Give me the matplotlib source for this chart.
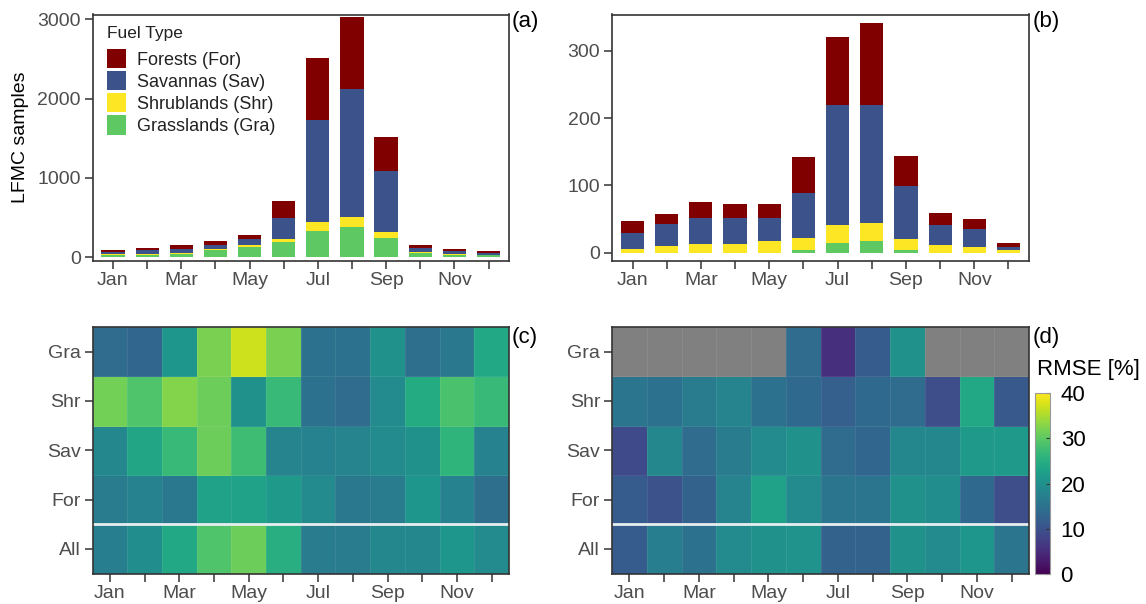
import matplotlib
matplotlib.use("Agg")
import matplotlib.pyplot as plt
import numpy as np
from matplotlib.colors import Normalize
from matplotlib.patches import Patch

plt.rcParams["font.family"] = ["Liberation Sans", "DejaVu Sans"]

months = ["Jan", "Feb", "Mar", "Apr", "May", "Jun", "Jul", "Aug", "Sep", "Oct", "Nov", "Dec"]
fuel_types = ["Forests (For)", "Savannas (Sav)", "Shrublands (Shr)", "Grasslands (Gra)"]
fuel_colors = ["#800000", "#3b528b", "#fde725", "#5ec962"]
heat_rows = ["Gra", "Shr", "Sav", "For", "All"]

# (a) sample counts per month, stacked Gra / Shr / Sav / For
gra_a = [30, 35, 45, 88, 130, 192, 335, 381, 238, 59, 33, 29]
shr_a = [10, 10, 15, 20, 20, 42, 104, 125, 76, 12, 9, 6]
sav_a = [30, 45, 50, 42, 76, 264, 1297, 1611, 778, 42, 33, 25]
for_a = [20, 27, 40, 60, 54, 209, 779, 916, 427, 46, 30, 20]

# (b) sample counts per month
gra_b = [0, 0, 0, 0, 0, 4.5, 14, 18, 4.5, 0, 0, 0]
shr_b = [6, 9.4, 13.4, 13.4, 17, 17.5, 27, 26.5, 15.5, 11.4, 9, 3.5]
sav_b = [23, 33.6, 38.1, 38.1, 34.5, 67, 179, 174.5, 78.5, 29.6, 26, 4.5]
for_b = [17.5, 15, 23.5, 20.5, 20.5, 53.5, 101, 123, 45, 18, 15, 6.4]

# (c) RMSE [%] rows Gra, Shr, Sav, For, All
rmse_c = np.array([
    [14, 13, 21, 32, 37, 32, 15, 15, 20, 14.5, 16, 24],
    [31.5, 29, 32.5, 31, 20, 27, 15, 14, 19, 24.5, 28.5, 27],
    [18.5, 23.5, 27, 31, 27.5, 18, 17.5, 18, 19, 20, 26, 17.5],
    [16.5, 17.5, 16, 23, 23, 21.5, 19, 16, 16.5, 21, 17.5, 14.5],
    [17, 19.5, 24, 29, 31, 25, 16.5, 16.5, 18.5, 18.5, 21, 19],
])

# (d) RMSE [%], nan = no samples
rmse_d = np.array([
    [np.nan, np.nan, np.nan, np.nan, np.nan, 14, 5.5, 11.5, 20, np.nan, np.nan, np.nan],
    [15.5, 15, 16.5, 18, 15, 13.5, 12, 13.5, 14, 9.5, 24, 11],
    [9, 18.5, 14, 16.5, 19, 20, 14, 13, 18.5, 18.5, 21.5, 21.5],
    [11.5, 10, 12.5, 18, 23, 19, 15.5, 15.5, 20, 19.5, 13.5, 9.5],
    [11.5, 17, 15, 19, 20, 20.5, 12.5, 12.5, 20, 19, 21, 15.5],
])

W, H = 1146, 604
FRAME = "#333333"
TICKCOL = "#4d4d4d"


def px_axes(fig, x0, y0, x1, y1):
    return fig.add_axes([x0 / W, 1 - y1 / H, (x1 - x0) / W, (y1 - y0) / H])


def style_axes(ax):
    for s in ax.spines.values():
        s.set_color(FRAME)
        s.set_linewidth(1.2)
    ax.tick_params(axis="both", colors=FRAME, labelcolor=TICKCOL, labelsize=14,
                   length=5.5, width=1.1, direction="out", pad=3)
    ax.set_xticks(range(1, 13))
    ax.set_xticklabels([m if i % 2 == 0 else "" for i, m in enumerate(months)])


def stacked_bars(ax, series):
    x = np.arange(1, 13)
    bottom = np.zeros(12)
    # draw from bottom: Gra, Shr, Sav, For
    for vals, col in zip(series, fuel_colors[::-1]):
        ax.bar(x, vals, width=0.68, bottom=bottom, color=col, edgecolor="none")
        bottom += np.array(vals)
    ax.set_xlim(0.4, 12.6)


def heatmap(ax, data, norm):
    cmap = plt.get_cmap("viridis").copy()
    cmap.set_bad("#808080")
    masked = np.ma.masked_invalid(data[::-1])
    ax.pcolormesh(np.arange(0.5, 13.5), np.arange(0.5, 6.5), masked, cmap=cmap, norm=norm,
                  edgecolor=(1, 1, 1, 0.08), linewidth=0.6)
    ax.axhline(1.5, color="#e8eef0", linewidth=2)
    ax.set_xlim(0.5, 12.5)
    ax.set_ylim(0.5, 5.5)
    ax.set_yticks(range(1, 6))
    ax.set_yticklabels(heat_rows[::-1])


fig = plt.figure(figsize=(W / 100, H / 100), dpi=100)

ax_a = px_axes(fig, 92.5, 14.5, 509, 260.5)
stacked_bars(ax_a, [gra_a, shr_a, sav_a, for_a])
ax_a.set_ylim(-40, 3060)
ax_a.set_yticks([0, 1000, 2000, 3000])
style_axes(ax_a)
fig.text(21 / W, 1 - 137 / H, "LFMC samples", fontsize=14, rotation=90,
         ha="center", va="center")

# legend: title as separate text so the gap below it matches
fig.text(107 / W, 1 - 38 / H, "Fuel Type", fontsize=12.5, ha="left", va="baseline",
         color="#222222")
handles = [Patch(facecolor=c, edgecolor="none") for c in fuel_colors]
leg = ax_a.legend(handles, fuel_types, loc="upper left", frameon=False,
                  fontsize=13, handlelength=1.05, handleheight=1.25,
                  labelspacing=0.14, borderaxespad=0, borderpad=0, handletextpad=0.6,
                  bbox_to_anchor=(107 / W, 1 - 49 / H), bbox_transform=fig.transFigure)
for t in leg.get_texts():
    t.set_color("#222222")
fig.text(512 / W, 1 - 22 / H, "(a)", fontsize=16, va="center", ha="left")

ax_b = px_axes(fig, 612, 14.5, 1029, 260.5)
stacked_bars(ax_b, [gra_b, shr_b, sav_b, for_b])
ax_b.set_ylim(-11.5, 354)
ax_b.set_yticks([0, 100, 200, 300])
style_axes(ax_b)
fig.text(1033 / W, 1 - 22 / H, "(b)", fontsize=16, va="center", ha="left")

norm = Normalize(0, 40)
ax_c = px_axes(fig, 92.5, 327, 509, 573.5)
heatmap(ax_c, rmse_c, norm)
style_axes(ax_c)
fig.text(512 / W, 1 - 337 / H, "(c)", fontsize=16, va="center", ha="left")

ax_d = px_axes(fig, 612, 327, 1029, 573.5)
heatmap(ax_d, rmse_d, norm)
style_axes(ax_d)
fig.text(1033 / W, 1 - 337 / H, "(d)", fontsize=16, va="center", ha="left")

cax = px_axes(fig, 1034.5, 393, 1049.5, 574)
sm = plt.cm.ScalarMappable(norm=norm, cmap=plt.get_cmap("viridis"))
cb = fig.colorbar(sm, cax=cax, ticks=[0, 10, 20, 30, 40])
cb.outline.set_edgecolor("#999999")
cb.outline.set_linewidth(0.8)
cax.tick_params(labelsize=16, colors=FRAME, labelcolor="black", length=3, width=0.8,
                direction="in", pad=8)
fig.text(1037 / W, 1 - 370 / H, "RMSE [%]", fontsize=16, va="center", ha="left")

fig.savefig("out.png", dpi=100)
